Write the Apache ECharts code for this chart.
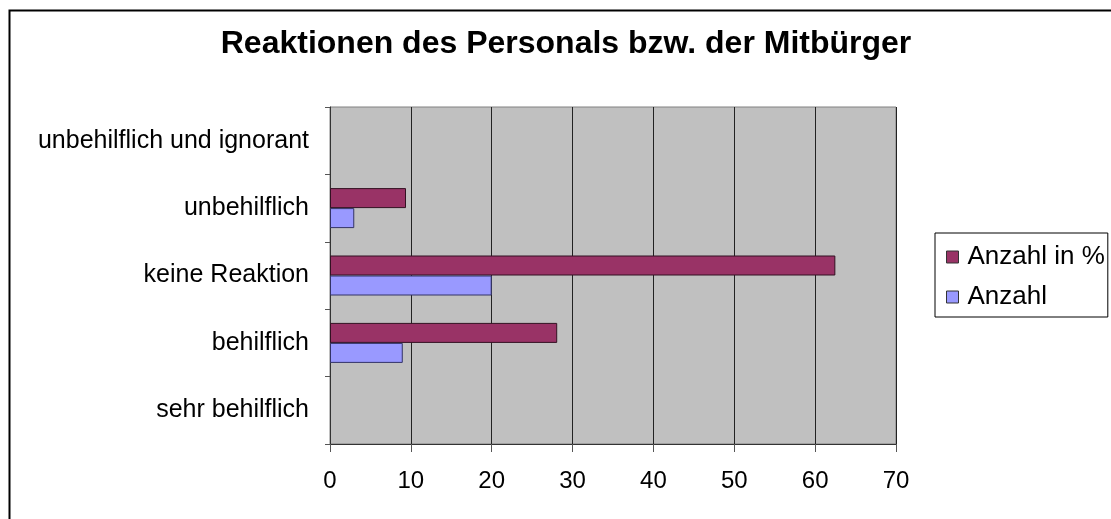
<!DOCTYPE html>
<html>
<head>
<meta charset="utf-8">
<script src="https://cdn.jsdelivr.net/npm/echarts@6/dist/echarts.min.js"></script>
<style>html,body{margin:0;padding:0;background:#fff;}#chart{width:1111px;height:519px;}</style>
</head>
<body>
<div id="chart"></div>
<script>
const titleText = 'Reaktionen des Personals bzw. der Mitbürger';
const categories = ['sehr behilflich', 'behilflich', 'keine Reaktion', 'unbehilflich', 'unbehilflich und ignorant'];
const seriesNames = ['Anzahl in %', 'Anzahl'];
const anzahlProzent = [0, 28.1, 62.5, 9.4, 0];
const anzahl = [0, 9, 20, 3, 0];
const xTicks = { min: 0, max: 70, interval: 10 };

const font = 'Liberation Sans, Arial, sans-serif';
function toData(arr) {
  return arr.map(v => v === 0 ? { value: v, itemStyle: { borderWidth: 0 } } : v);
}
const chart = echarts.init(document.getElementById('chart'), null, { renderer: 'canvas' });
chart.setOption({
  animation: false,
  backgroundColor: '#fff',
  graphic: [{
    type: 'rect', left: 7, top: 8, silent: true,
    shape: { width: 1200, height: 600 },
    style: { fill: 'none', stroke: '#000', lineWidth: 2 }
  }],
  title: {
    text: titleText, left: 566, top: 28, padding: 0, textAlign: 'center',
    textStyle: { fontFamily: font, fontWeight: 'bold', fontSize: 32, color: '#000' }
  },
  legend: {
    orient: 'vertical', left: 935, top: 233,
    data: seriesNames,
    icon: 'rect', itemWidth: 12, itemHeight: 12, itemGap: 14,
    padding: [11, 3, 7, 11],
    borderColor: '#000', borderWidth: 1, backgroundColor: '#fff',
    textStyle: { fontFamily: font, fontSize: 26, color: '#000', padding: [0, 0, 0, 4] },
    itemStyle: { borderColor: '#333', borderWidth: 1 }
  },
  grid: {
    left: 330, right: 215, top: 107, bottom: 75,
    show: true, backgroundColor: '#c0c0c0', borderColor: '#808080', borderWidth: 1
  },
  xAxis: {
    type: 'value', min: xTicks.min, max: xTicks.max, interval: xTicks.interval,
    axisLine: { show: true, lineStyle: { color: '#333', width: 1 } },
    axisTick: { show: true, length: 8, lineStyle: { color: '#555' } },
    splitLine: { show: true, lineStyle: { color: '#222', width: 1 } },
    axisLabel: { margin: 25, fontFamily: font, fontSize: 24, color: '#000' }
  },
  yAxis: {
    type: 'category', data: categories,
    axisLine: { show: true, lineStyle: { color: '#333', width: 1 } },
    axisTick: { show: true, length: 5, lineStyle: { color: '#555' } },
    axisLabel: { margin: 21, fontFamily: font, fontSize: 25, color: '#000' }
  },
  series: [
    {
      name: seriesNames[0], type: 'bar', data: toData(anzahlProzent),
      barWidth: 20, barGap: '0%',
      itemStyle: { color: '#993366', borderColor: '#331122', borderWidth: 1 }
    },
    {
      name: seriesNames[1], type: 'bar', data: toData(anzahl),
      barWidth: 20, barGap: '0%',
      itemStyle: { color: '#9999ff', borderColor: '#333366', borderWidth: 1 }
    }
  ]
});
</script>
</body>
</html>
